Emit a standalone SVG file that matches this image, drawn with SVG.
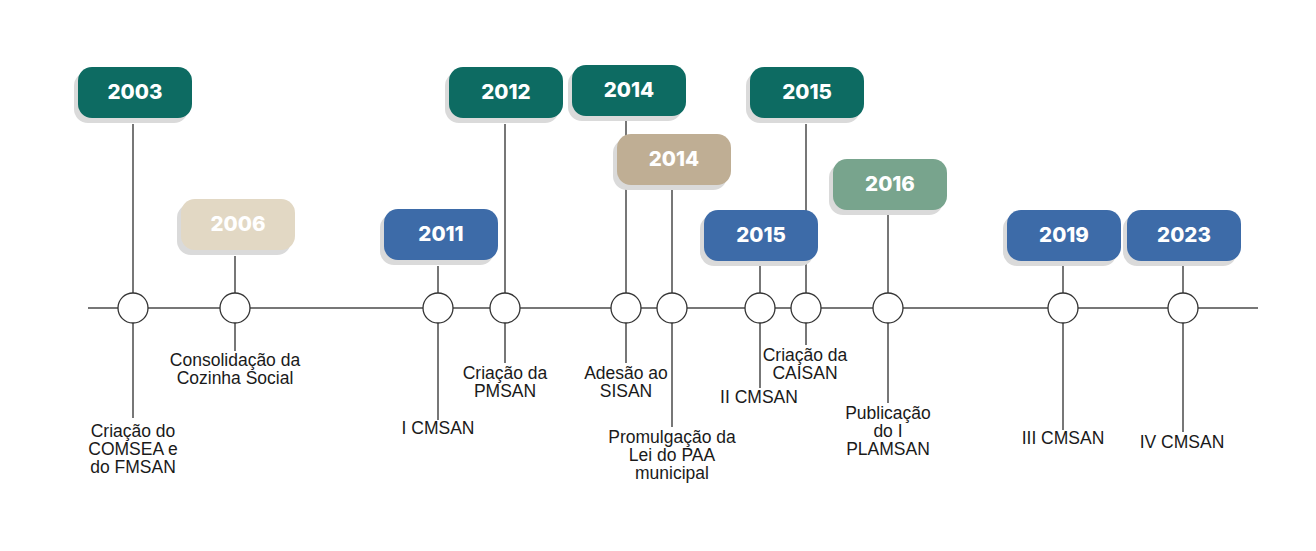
<svg xmlns="http://www.w3.org/2000/svg" width="1316" height="551" viewBox="0 0 1316 551">
<style>
.ln{stroke:#4a4a4a;stroke-width:1.5;fill:none}
.dot{fill:#fff;stroke:#333;stroke-width:1.3}
.sh{fill:#dadada}
.yr{font-family:Inter,"Open Sans",sans-serif;font-weight:800;font-size:20.5px;fill:#fff;text-anchor:middle}
.lb{font-family:"Liberation Sans",Arial,sans-serif;font-size:17.5px;fill:#1a1a1a;text-anchor:middle}
.g{fill:#0d6b62}.b{fill:#3d6ba8}.t1{fill:#e2d8c4}.t2{fill:#bfae94}.s{fill:#78a48d}
</style>
<rect width="1316" height="551" fill="#fff"/>
<g id="connectors">
<line class="ln" x1="88" y1="308" x2="1258" y2="308"/>
<line class="ln" x1="133" y1="124" x2="133" y2="418"/>
<line class="ln" x1="235" y1="256" x2="235" y2="351"/>
<line class="ln" x1="438" y1="266" x2="438" y2="420"/>
<line class="ln" x1="505" y1="124" x2="505" y2="363"/>
<line class="ln" x1="626" y1="121" x2="626" y2="363"/>
<line class="ln" x1="672" y1="190" x2="672" y2="427"/>
<line class="ln" x1="760" y1="266" x2="760" y2="388"/>
<line class="ln" x1="806" y1="124" x2="806" y2="345"/>
<line class="ln" x1="888" y1="215" x2="888" y2="403"/>
<line class="ln" x1="1063" y1="266" x2="1063" y2="430"/>
<line class="ln" x1="1183" y1="266" x2="1183" y2="432"/>
</g>
<g id="n2003"><rect class="sh" x="74" y="72" width="114" height="51" rx="14"/><rect class="g" x="78" y="67" width="114" height="51" rx="14"/><text class="yr" x="135" y="99">2003</text>
<circle class="dot" cx="133" cy="308" r="15"/>
<text class="lb" x="133" y="437">Criação do</text><text class="lb" x="133" y="455">COMSEA e</text><text class="lb" x="133" y="473">do FMSAN</text></g>
<g id="n2006"><rect class="sh" x="177" y="204" width="114" height="51" rx="14"/><rect class="t1" x="181" y="199" width="114" height="51" rx="14"/><text class="yr" x="238" y="231">2006</text>
<circle class="dot" cx="235" cy="308" r="15"/>
<text class="lb" x="235" y="366">Consolidação da</text><text class="lb" x="235" y="384">Cozinha Social</text></g>
<g id="n2011"><rect class="sh" x="380" y="214" width="114" height="51" rx="14"/><rect class="b" x="384" y="209" width="114" height="51" rx="14"/><text class="yr" x="441" y="241">2011</text>
<circle class="dot" cx="438" cy="308" r="15"/>
<text class="lb" x="438" y="434">I CMSAN</text></g>
<g id="n2012"><rect class="sh" x="445" y="72" width="114" height="51" rx="14"/><rect class="g" x="449" y="67" width="114" height="51" rx="14"/><text class="yr" x="506" y="99">2012</text>
<circle class="dot" cx="505" cy="308" r="15"/>
<text class="lb" x="505" y="379">Criação da</text><text class="lb" x="505" y="397">PMSAN</text></g>
<g id="n2014a"><rect class="sh" x="568" y="70" width="114" height="51" rx="14"/><rect class="g" x="572" y="65" width="114" height="51" rx="14"/><text class="yr" x="629" y="97">2014</text>
<circle class="dot" cx="626" cy="308" r="15"/>
<text class="lb" x="626" y="379">Adesão ao</text><text class="lb" x="626" y="397">SISAN</text></g>
<g id="n2014b"><rect class="sh" x="613" y="139" width="114" height="51" rx="14"/><rect class="t2" x="617" y="134" width="114" height="51" rx="14"/><text class="yr" x="674" y="166">2014</text>
<circle class="dot" cx="672" cy="308" r="15"/>
<text class="lb" x="672" y="443">Promulgação da</text><text class="lb" x="672" y="461">Lei do PAA</text><text class="lb" x="672" y="479">municipal</text></g>
<g id="n2015a"><rect class="sh" x="746" y="72" width="114" height="51" rx="14"/><rect class="g" x="750" y="67" width="114" height="51" rx="14"/><text class="yr" x="807" y="99">2015</text>
<circle class="dot" cx="806" cy="308" r="15"/>
<text class="lb" x="805" y="361">Criação da</text><text class="lb" x="805" y="379">CAISAN</text></g>
<g id="n2015b"><rect class="sh" x="700" y="215" width="114" height="51" rx="14"/><rect class="b" x="704" y="210" width="114" height="51" rx="14"/><text class="yr" x="761" y="242">2015</text>
<circle class="dot" cx="760" cy="308" r="15"/>
<text class="lb" x="759" y="403">II CMSAN</text></g>
<g id="n2016"><rect class="sh" x="829" y="164" width="114" height="51" rx="14"/><rect class="s" x="833" y="159" width="114" height="51" rx="14"/><text class="yr" x="890" y="191">2016</text>
<circle class="dot" cx="888" cy="308" r="15"/>
<text class="lb" x="888" y="419">Publicação</text><text class="lb" x="888" y="437">do I</text><text class="lb" x="888" y="455">PLAMSAN</text></g>
<g id="n2019"><rect class="sh" x="1003" y="215" width="114" height="51" rx="14"/><rect class="b" x="1007" y="210" width="114" height="51" rx="14"/><text class="yr" x="1064" y="242">2019</text>
<circle class="dot" cx="1063" cy="308" r="15"/>
<text class="lb" x="1063" y="444">III CMSAN</text></g>
<g id="n2023"><rect class="sh" x="1123" y="215" width="114" height="51" rx="14"/><rect class="b" x="1127" y="210" width="114" height="51" rx="14"/><text class="yr" x="1184" y="242">2023</text>
<circle class="dot" cx="1183" cy="308" r="15"/>
<text class="lb" x="1182" y="448">IV CMSAN</text></g>
</svg>
